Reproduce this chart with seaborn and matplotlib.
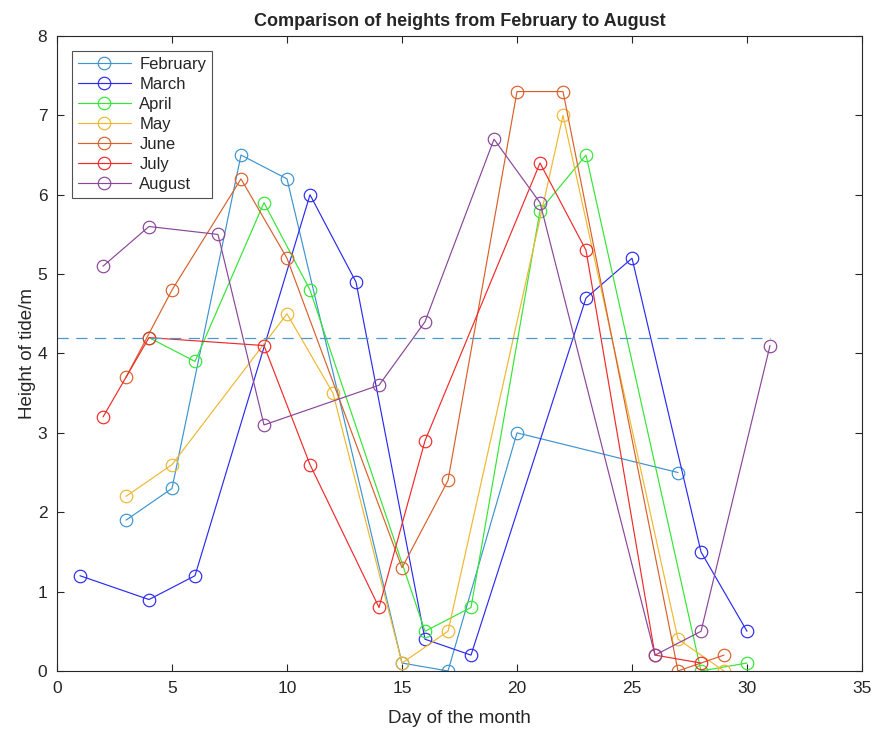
import numpy as np
import pandas as pd
import seaborn as sns
import matplotlib.pyplot as plt

# tide heights
feb_day = [3, 5, 8, 10, 15, 17, 20, 27]
feb_h = [1.9, 2.3, 6.5, 6.2, 0.1, 0.0, 3.0, 2.5]

mar_day = [1, 4, 6, 11, 13, 16, 18, 23, 25, 28, 30]
mar_h = [1.2, 0.9, 1.2, 6.0, 4.9, 0.4, 0.2, 4.7, 5.2, 1.5, 0.5]

apr_day = [4, 6, 9, 11, 16, 18, 21, 23, 28, 30]
apr_h = [4.2, 3.9, 5.9, 4.8, 0.5, 0.8, 5.8, 6.5, 0.0, 0.1]

may_day = [3, 5, 10, 12, 15, 17, 22, 27, 29]
may_h = [2.2, 2.6, 4.5, 3.5, 0.1, 0.5, 7.0, 0.4, 0.0]

jun_day = [3, 5, 8, 10, 15, 17, 20, 22, 27, 29]
jun_h = [3.7, 4.8, 6.2, 5.2, 1.3, 2.4, 7.3, 7.3, 0.0, 0.2]

jul_day = [2, 4, 9, 11, 14, 16, 21, 23, 26, 28]
jul_h = [3.2, 4.2, 4.1, 2.6, 0.8, 2.9, 6.4, 5.3, 0.2, 0.1]

aug_day = [2, 4, 7, 9, 14, 16, 19, 21, 26, 28, 31]
aug_h = [5.1, 5.6, 5.5, 3.1, 3.6, 4.4, 6.7, 5.9, 0.2, 0.5, 4.1]

months = ["February", "March", "April", "May", "June", "July", "August"]
days = [feb_day, mar_day, apr_day, may_day, jun_day, jul_day, aug_day]
heights = [feb_h, mar_h, apr_h, may_h, jun_h, jul_h, aug_h]
colors = ["#3d94cf", "#2b2bf0", "#33e633", "#eeb830", "#d9602a", "#f02a2a", "#8a4699"]

ref_level = 4.2
ref_days = [0, 31]

sns.set_style("ticks")
plt.rcParams['font.family'] = ['Liberation Sans', 'DejaVu Sans']

fig = plt.figure(figsize=(8.74, 7.29), dpi=100)
ax = fig.add_axes([0.0652, 0.0796, 0.9211, 0.871])

for name, d, h, c in zip(months, days, heights, colors):
    df = pd.DataFrame({"day": d, "height": h})
    sns.lineplot(data=df, x="day", y="height", ax=ax, color=c, linewidth=0.85,
                 marker="o", markersize=9, markerfacecolor="none",
                 markeredgecolor=c, markeredgewidth=0.85, label=name, sort=False)

ax.plot(ref_days, [ref_level, ref_level], color="#4a9ad0", linewidth=0.9,
        dashes=(9, 6))

ax.set_xlim(0, 35)
ax.set_ylim(0, 8)
ax.set_xticks(np.arange(0, 36, 5))
ax.set_yticks(np.arange(0, 9, 1))
ax.tick_params(direction="in", top=True, right=True, labelsize=12.5,
               color="#262626", length=5, width=0.8, pad=7)
for s in ax.spines.values():
    s.set_color("#262626")
    s.set_linewidth(0.8)

ax.set_xlabel("Day of the month", fontsize=13.5, labelpad=10)
ax.set_ylabel("Height of tide/m", fontsize=13.5, labelpad=1)
ax.set_title("Comparison of heights from February to August", fontsize=13,
             fontweight="bold", pad=7)

leg = ax.legend(loc="upper left", bbox_to_anchor=(0.0186, 0.976), fontsize=12,
                frameon=True, fancybox=False, edgecolor="#262626",
                handlelength=3.2, borderpad=0.35, labelspacing=0.3,
                handletextpad=0.5, borderaxespad=0)
leg.get_frame().set_linewidth(0.8)

fig.savefig("out.png", dpi=100)
